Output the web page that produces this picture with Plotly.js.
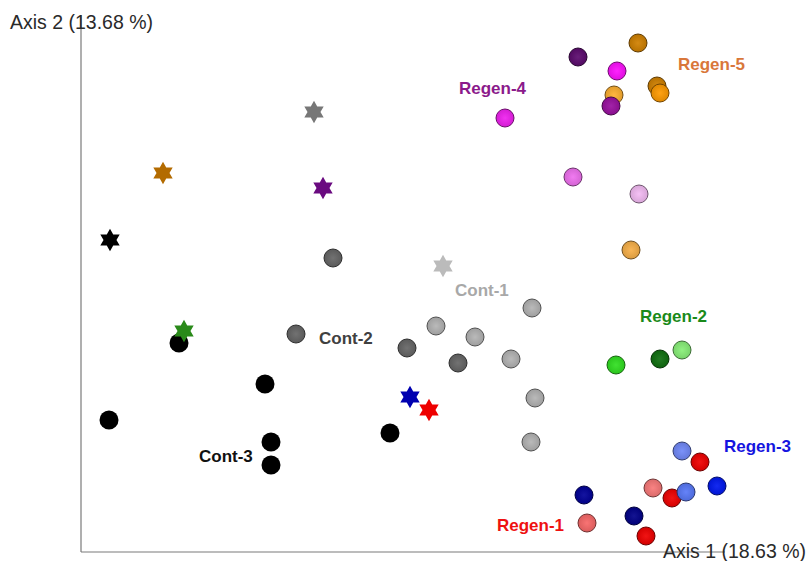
<!DOCTYPE html>
<html>
<head>
<meta charset="utf-8">
<script src="https://cdn.plot.ly/plotly-3.0.1.min.js"></script>
<style>html,body{margin:0;padding:0;background:#fff;}#chart{width:806px;height:561px;}</style>
</head>
<body>
<div id="chart"></div>
<script>
// PCoA coordinates (Axis 1, Axis 2)
// Reference samples (stars)
const starX = [-0.126, -0.277, -0.117, -0.330, -0.256, 0.003, -0.030, -0.011];
const starY = [0.188, 0.127, 0.112, 0.060, -0.031, 0.034, -0.097, -0.110];
const starColors = ['#777777', '#b36b00', '#6a0a80', '#000000', '#2a8a1a', '#bbbbbb', '#0000b0', '#ee0000'];

const cont3X = [-0.261, -0.175, -0.331, -0.169, -0.169, -0.050];
const cont3Y = [-0.043, -0.084, -0.120, -0.142, -0.165, -0.133];

const cont2X = [-0.107, -0.144, -0.033, 0.018];
const cont2Y = [0.042, -0.034, -0.048, -0.063];

const cont1X = [-0.004, 0.035, 0.092, 0.071, 0.095, 0.091];
const cont1Y = [-0.026, -0.037, -0.008, -0.059, -0.098, -0.142];

const regen4X = [0.138, 0.177, 0.065, 0.133, 0.199];
const regen4Y = [0.243, 0.229, 0.182, 0.123, 0.106];
const regen4Colors = ['#5c0a6e', '#ff10ff', '#f020f0', '#f070f0', '#f4bcf4'];

const regen5X = [0.198, 0.217, 0.220, 0.174, 0.191];
const regen5Y = [0.257, 0.214, 0.207, 0.205, 0.050];
const regen5Colors = ['#d08000', '#d08000', '#ff9a00', '#ffb030', '#f8b048'];

const regen4bX = [0.171];
const regen4bY = [0.194];
const regen4bColors = ['#9a10a0'];

const regen2X = [0.176, 0.220, 0.242];
const regen2Y = [-0.065, -0.059, -0.050];
const regen2Colors = ['#30e020', '#107010', '#88f078'];

const regen13X = [0.144, 0.194, 0.147, 0.206, 0.213, 0.232, 0.260, 0.246, 0.242, 0.277];
const regen13Y = [-0.195, -0.216, -0.223, -0.236, -0.188, -0.198, -0.162, -0.192, -0.151, -0.186];
const regen13Colors = ['#000098', '#000088', '#f86868', '#f00000', '#f87878', '#f00000', '#f00000', '#5878f8', '#7088f8', '#0018f0'];

const groupLabels = ['Regen-5', 'Regen-4', 'Cont-1', 'Cont-2', 'Cont-3', 'Regen-2', 'Regen-3', 'Regen-1'];
const labelX = [0.271, 0.053, 0.042, -0.094, -0.214, 0.233, 0.317, 0.090];
const labelY = [0.236, 0.212, 0.010, -0.038, -0.156, -0.016, -0.146, -0.225];
const labelColors = ['#d9773a', '#8b1a8b', '#a8a8a8', '#404040', '#111111', '#1a8a1a', '#1515e0', '#ee1111'];

const axis1Title = 'Axis 1 (18.63 %)';
const axis2Title = 'Axis 2 (13.68 %)';

function shade(hex, f) {
  const n = parseInt(hex.slice(1), 16);
  let r = (n >> 16) & 255, g = (n >> 8) & 255, b = n & 255;
  if (f < 0) { r = Math.round(r * (1 + f)); g = Math.round(g * (1 + f)); b = Math.round(b * (1 + f)); }
  else { r = Math.round(r + (255 - r) * f); g = Math.round(g + (255 - g) * f); b = Math.round(b + (255 - b) * f); }
  return 'rgb(' + r + ',' + g + ',' + b + ')';
}

function sphereTrace(xs, ys, cols) {
  return {
    type: 'scatter', mode: 'markers', x: xs, y: ys, hoverinfo: 'skip',
    marker: {
      size: 18, symbol: 'circle',
      color: cols.map(c => shade(c, -0.12)),
      gradient: { type: 'radial', color: cols.map(c => shade(c, 0.08)) },
      line: { width: 1, color: cols.map(c => shade(c, -0.55)) }
    }
  };
}

const data = [
  {
    type: 'scatter', mode: 'markers', x: cont3X, y: cont3Y, hoverinfo: 'skip',
    marker: { size: 19, color: '#000000', line: { width: 0 } }
  },
  sphereTrace(cont2X, cont2Y, cont2X.map(() => '#666666')),
  sphereTrace(cont1X, cont1Y, cont1X.map(() => '#b4b4b4')),
  sphereTrace(regen4X, regen4Y, regen4Colors),
  sphereTrace(regen5X, regen5Y, regen5Colors),
  sphereTrace(regen4bX, regen4bY, regen4bColors),
  sphereTrace(regen2X, regen2Y, regen2Colors),
  sphereTrace(regen13X, regen13Y, regen13Colors),
  {
    type: 'scatter', mode: 'markers', x: starX, y: starY, hoverinfo: 'skip',
    marker: { size: 17, symbol: 'hexagram', color: starColors, line: { width: 0 } }
  }
];

const font = 'Arial, "Liberation Sans", sans-serif';
const annotations = groupLabels.map((t, i) => ({
  x: labelX[i], y: labelY[i], xref: 'x', yref: 'y', text: t, showarrow: false,
  xanchor: 'center', yanchor: 'middle',
  font: { family: font, size: 17, color: labelColors[i], weight: 'bold' }
}));
annotations.push({
  x: -0.432, y: 0.278, xref: 'x', yref: 'y', text: axis2Title, showarrow: false,
  xanchor: 'left', yanchor: 'middle', font: { family: font, size: 19.5, color: '#2a2a2a' }
});
annotations.push({
  x: 0.221, y: -0.251, xref: 'x', yref: 'y', text: axis1Title, showarrow: false,
  xanchor: 'left', yanchor: 'middle', font: { family: font, size: 19.5, color: '#2a2a2a' }
});

const layout = {
  width: 806, height: 561,
  margin: { l: 0, r: 0, t: 0, b: 0 },
  paper_bgcolor: '#ffffff', plot_bgcolor: '#ffffff',
  showlegend: false,
  xaxis: { range: [-0.44, 0.366], visible: false, fixedrange: true },
  yaxis: { range: [-0.261, 0.3], visible: false, fixedrange: true },
  shapes: [
    { type: 'line', xref: 'x', yref: 'y', x0: -0.359, x1: -0.359, y0: 0.285, y1: -0.252, line: { color: '#7a7a7a', width: 1.2 }, layer: 'below' },
    { type: 'line', xref: 'x', yref: 'y', x0: -0.359, x1: 0.285, y0: -0.252, y1: -0.252, line: { color: '#7a7a7a', width: 1.2 }, layer: 'below' }
  ],
  annotations: annotations
};

Plotly.newPlot('chart', data, layout, { staticPlot: true, displayModeBar: false });
</script>
</body>
</html>
